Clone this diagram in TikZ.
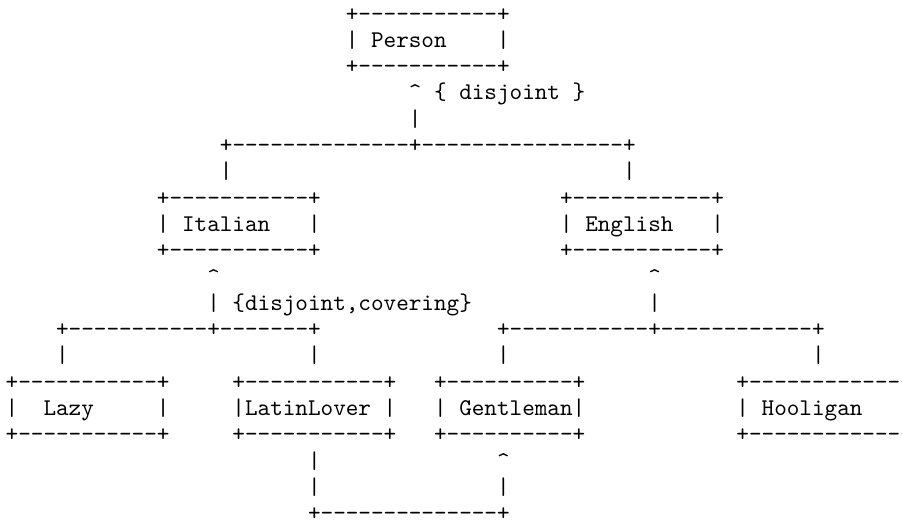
\documentclass[tikz,border=0pt]{standalone}
\usepackage{tikz}

% one character cell of the monospaced grid (10pt Latin Modern Mono: 0.525em)
\newlength\cw
\setlength\cw{5.25pt}
\newcommand\gaprun[1]{\hspace*{#1\cw}}
\newcommand\dashrun[1]{\foreach\k in {1,...,#1}{-}}
\newcommand\caret{\textasciicircum}

\tikzset{
  % 10pt typewriter type, enlarged to a 12.6px character cell
  asciirow/.style={anchor=base west, inner sep=0pt, outer sep=0pt, scale=2.4,
    font=\fontsize{10}{12}\selectfont\ttfamily}
}

% baseline of text row #1 (in px, measured downwards)
\newcommand\rowy[1]{21+26.3*#1}

\begin{document}
\begin{tikzpicture}[x=1pt,y=-1pt]
  \useasboundingbox (0,0) rectangle (902,523);
  \clip (0,0) rectangle (902,523);
  \fill[white] (0,0) rectangle (902,523);

  % Person
  \node[asciirow] (r0)  at (5.7,{\rowy{0}})  {\gaprun{27}+\dashrun{11}+};
  \node[asciirow] (r1)  at (5.7,{\rowy{1}})  {\gaprun{27}|\gaprun{1}Person\gaprun{4}|};
  \node[asciirow] (r2)  at (5.7,{\rowy{2}})  {\gaprun{27}+\dashrun{11}+};
  \node[asciirow] (r3)  at (5.7,{\rowy{3}})  {\gaprun{32}\caret\gaprun{1}\{\gaprun{1}disjoint\gaprun{1}\}};
  \node[asciirow] (r4)  at (5.7,{\rowy{4}})  {\gaprun{32}|};
  \node[asciirow] (r5)  at (5.7,{\rowy{5}})  {\gaprun{17}+\dashrun{14}+\dashrun{16}+};
  \node[asciirow] (r6)  at (5.7,{\rowy{6}})  {\gaprun{17}|\gaprun{31}|};

  % Italian and English
  \node[asciirow] (r7)  at (5.7,{\rowy{7}})  {\gaprun{12}+\dashrun{11}+\gaprun{19}+\dashrun{11}+};
  \node[asciirow] (r8)  at (5.7,{\rowy{8}})  {\gaprun{12}|\gaprun{1}Italian\gaprun{3}|\gaprun{19}|\gaprun{1}English\gaprun{3}|};
  \node[asciirow] (r9)  at (5.7,{\rowy{9}})  {\gaprun{12}+\dashrun{11}+\gaprun{19}+\dashrun{11}+};
  \node[asciirow] (r10) at (5.7,{\rowy{10}}) {\gaprun{16}\caret\gaprun{34}\caret};
  \node[asciirow] (r11) at (5.7,{\rowy{11}}) {\gaprun{16}|\gaprun{1}\{disjoint,covering\}\gaprun{14}|};
  \node[asciirow] (r12) at (5.7,{\rowy{12}}) {\gaprun{4}+\dashrun{11}+\dashrun{7}+\gaprun{14}+\dashrun{11}+\dashrun{12}+};
  \node[asciirow] (r13) at (5.7,{\rowy{13}}) {\gaprun{4}|\gaprun{19}|\gaprun{14}|\gaprun{24}|};

  % Lazy, LatinLover, Gentleman, Hooligan
  \node[asciirow] (r14) at (5.7,{\rowy{14}}) {+\dashrun{11}+\gaprun{5}+\dashrun{11}+\gaprun{3}+\dashrun{10}+\gaprun{12}+\dashrun{13}+};
  \node[asciirow] (r15) at (5.7,{\rowy{15}}) {|\gaprun{2}Lazy\gaprun{5}|\gaprun{5}|LatinLover\gaprun{1}|\gaprun{3}|\gaprun{1}Gentleman|\gaprun{12}|\gaprun{1}Hooligan\gaprun{5}|};
  \node[asciirow] (r16) at (5.7,{\rowy{16}}) {+\dashrun{11}+\gaprun{5}+\dashrun{11}+\gaprun{3}+\dashrun{10}+\gaprun{12}+\dashrun{13}+};
  \node[asciirow] (r17) at (5.7,{\rowy{17}}) {\gaprun{24}|\gaprun{14}\caret};
  \node[asciirow] (r18) at (5.7,{\rowy{18}}) {\gaprun{24}|\gaprun{14}|};
  \node[asciirow] (r19) at (5.7,{\rowy{19}}) {\gaprun{24}+\dashrun{14}+};
\end{tikzpicture}
\end{document}
